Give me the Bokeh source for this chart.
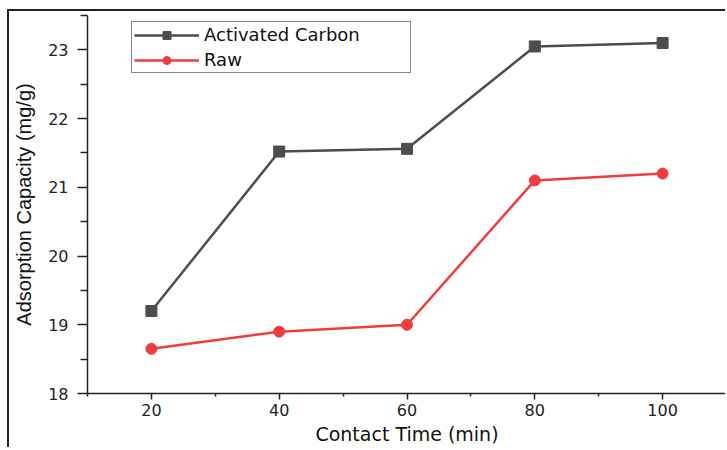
from bokeh.plotting import figure
from bokeh.models import Range1d, FixedTicker, Legend, LegendItem
from bokeh.embed import file_html
from bokeh.resources import INLINE

contact_time = [20, 40, 60, 80, 100]
activated_carbon = [19.2, 21.52, 21.56, 23.05, 23.1]
raw = [18.65, 18.9, 19.0, 21.1, 21.2]
x_ticks = [20, 40, 60, 80, 100]
y_ticks = [18, 19, 20, 21, 22, 23]

AC_COLOR = "#4d4d4d"
RAW_COLOR = "#f03c3c"
AXIS_COLOR = "#222222"

p = figure(width=718, height=438, output_backend="svg", toolbar_location=None,
           x_range=Range1d(10, 110), y_range=Range1d(18, 23.5),
           min_border_left=78, min_border_right=1, min_border_top=4, min_border_bottom=56,
           styles={"margin-left": "7px", "margin-top": "9px",
                   "border-top": "2px solid #222", "border-left": "2px solid #222"})
p.xgrid.visible = False
p.ygrid.visible = False
p.outline_line_color = None
p.background_fill_color = "white"
p.border_fill_color = "white"

# axes
p.xaxis.ticker = FixedTicker(ticks=x_ticks, minor_ticks=[t - 10 for t in x_ticks] + [x_ticks[-1] + 10])
p.yaxis.ticker = FixedTicker(ticks=y_ticks, minor_ticks=[t + 0.5 for t in y_ticks])
for ax in (p.xaxis[0], p.yaxis[0]):
    ax.axis_line_color = AXIS_COLOR
    ax.axis_line_width = 1.5
    ax.major_tick_line_color = AXIS_COLOR
    ax.minor_tick_line_color = AXIS_COLOR
    ax.major_tick_line_width = 1.5
    ax.minor_tick_line_width = 1.5
    ax.major_tick_in = 0
    ax.minor_tick_in = 0
    ax.major_label_text_font = "DejaVu Sans"
    ax.major_label_text_font_size = "16px"
    ax.major_label_text_color = "#222222"
    ax.axis_label_text_font_style = "normal"
    ax.axis_label_text_color = "#111111"

p.xaxis.major_tick_out = 6
p.xaxis.minor_tick_out = 3
p.xaxis.major_label_standoff = 4
p.yaxis.major_tick_out = 10
p.yaxis.minor_tick_out = 7
p.yaxis.major_label_standoff = 9

p.yaxis.axis_label = "Adsorption Capacity (mg/g)"
p.yaxis.axis_label_text_font = "Liberation Sans"
p.yaxis.axis_label_text_font_size = "20px"
p.yaxis.axis_label_standoff = 10

p.xaxis.axis_label = "Contact Time (min)"
p.xaxis.axis_label_text_font = "DejaVu Sans"
p.xaxis.axis_label_text_font_size = "19px"
p.xaxis.axis_label_standoff = 4

# series
l1 = p.line(contact_time, activated_carbon, line_color=AC_COLOR, line_width=2.5)
s1 = p.scatter(contact_time, activated_carbon, marker="square", size=11,
               fill_color=AC_COLOR, line_color=AC_COLOR)
l2 = p.line(contact_time, raw, line_color=RAW_COLOR, line_width=2.5)
s2 = p.scatter(contact_time, raw, marker="circle", size=11,
               fill_color=RAW_COLOR, line_color=RAW_COLOR)

legend = Legend(items=[LegendItem(label="Activated Carbon", renderers=[l1, s1]),
                       LegendItem(label="Raw", renderers=[l2, s2])],
                location=(44, 320), margin=0, padding=2, spacing=4,
                glyph_width=65, glyph_height=20, label_height=20, label_width=204,
                label_standoff=5,
                label_text_font="DejaVu Sans", label_text_font_size="18px",
                label_text_color="#111111",
                border_line_color="#111111", border_line_width=1.5,
                background_fill_color="white", background_fill_alpha=1.0)
p.add_layout(legend)

open("out.html", "w").write(file_html(p, INLINE))
